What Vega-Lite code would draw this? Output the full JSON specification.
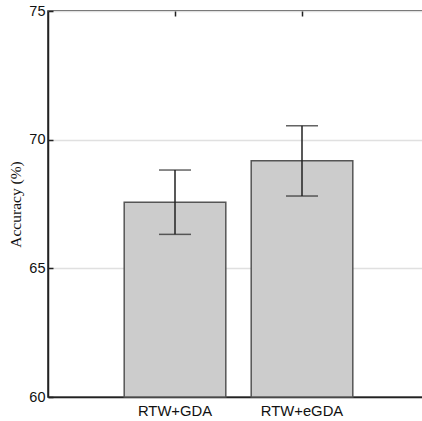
{
  "$schema": "https://vega.github.io/schema/vega-lite/v6.json",
  "autosize": {"type": "none"},
  "padding": {"left": 48, "top": 11, "right": 0, "bottom": 24},
  "width": 381,
  "height": 386,
  "data": {"values": [
    {"method": "RTW+GDA", "acc": 67.57, "lo": 66.32, "hi": 68.82},
    {"method": "RTW+eGDA", "acc": 69.18, "lo": 67.81, "hi": 70.54}
  ]},
  "config": {
    "view": {"stroke": "#222222", "strokeWidth": 1.5},
    "axis": {"labelFont": "Liberation Sans", "labelFontSize": 14.5, "labelColor": "#111111", "domainColor": "#222222", "tickColor": "#222222", "domainWidth": 1.5, "tickWidth": 1.5}
  },
  "layer": [
    {
      "encoding": {
        "x": {"field": "method", "type": "nominal", "sort": null,
          "scale": {"paddingInner": 0.2, "paddingOuter": 0.6},
          "axis": {"orient": "bottom", "title": null, "labelAngle": 0, "tickSize": -5, "labelPadding": 11, "labelFontSize": 14.8, "grid": false}}
      },
      "layer": [
        {
          "mark": {"type": "bar", "fill": "#cccccc", "stroke": "#555555", "strokeWidth": 1.5},
          "encoding": {
            "y": {"field": "acc", "type": "quantitative",
              "scale": {"domain": [60, 75], "zero": false, "nice": false},
              "axis": {"title": "Accuracy (%)", "titleFont": "Liberation Serif", "titleFontSize": 15.5, "titleFontWeight": "normal", "titleColor": "#111111", "titlePadding": 5,
                "values": [60, 65, 70, 75], "tickSize": -5, "labelPadding": 8, "grid": true, "gridColor": "#e0e0e0", "gridWidth": 1.5}},
            "y2": {"datum": 60}
          }
        },
        {
          "mark": {"type": "rule", "color": "#222222", "strokeWidth": 1.5},
          "encoding": {
            "y": {"field": "lo", "type": "quantitative", "scale": {"domain": [60, 75], "zero": false, "nice": false}},
            "y2": {"field": "hi"}}
        },
        {
          "mark": {"type": "tick", "color": "#222222", "size": 32, "thickness": 1.5},
          "encoding": {
            "y": {"field": "lo", "type": "quantitative", "scale": {"domain": [60, 75], "zero": false, "nice": false}}}
        },
        {
          "mark": {"type": "tick", "color": "#222222", "size": 32, "thickness": 1.5},
          "encoding": {
            "y": {"field": "hi", "type": "quantitative", "scale": {"domain": [60, 75], "zero": false, "nice": false}}}
        }
      ]
    },
    {
      "mark": {"type": "rule", "opacity": 0},
      "encoding": {
        "x": {"field": "method", "type": "nominal", "sort": null,
          "scale": {"paddingInner": 0.2, "paddingOuter": 0.6},
          "axis": {"orient": "top", "title": null, "labels": false, "tickSize": -5, "domain": false, "grid": false}}
      }
    }
  ],
  "resolve": {"scale": {"x": "independent"}, "axis": {"x": "independent"}}
}
